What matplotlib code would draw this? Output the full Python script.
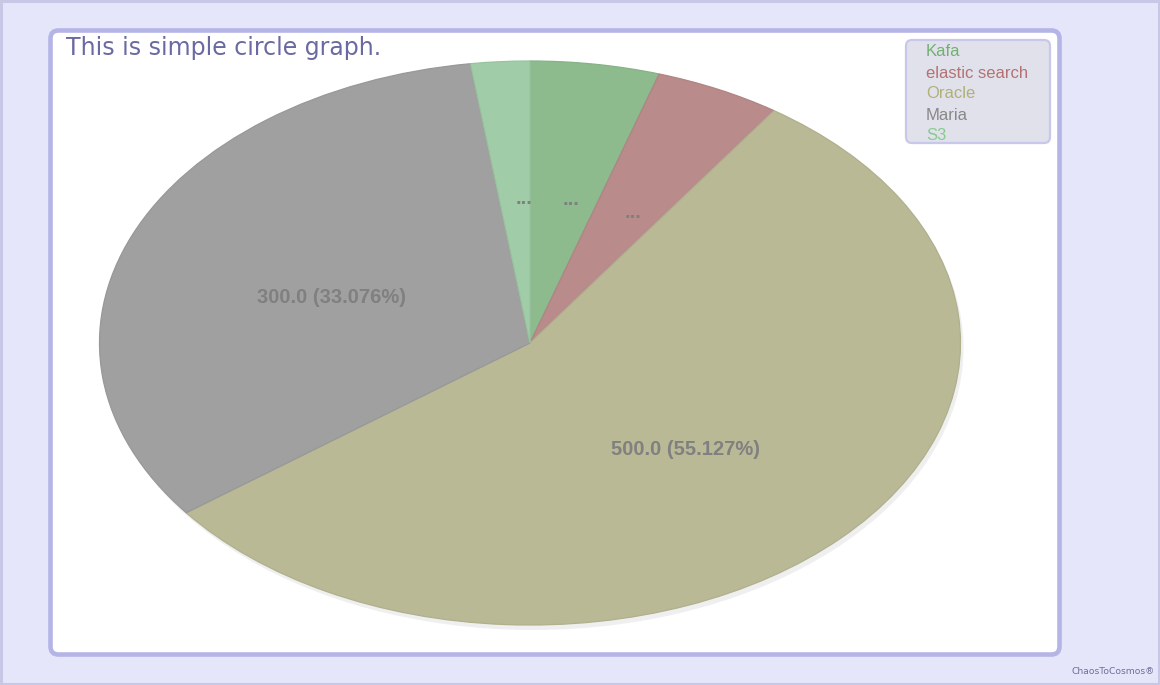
import numpy as np
import matplotlib
matplotlib.use("Agg")
import matplotlib.pyplot as plt
from matplotlib.patches import FancyBboxPatch, Rectangle, Ellipse
from matplotlib.transforms import IdentityTransform
from matplotlib.colors import to_rgb

# chart data
names = ["Kafa", "elastic search", "Oracle", "Maria", "S3"]
values = [44.0, 43.0, 500.0, 300.0, 20.0]
slice_colors = ["#8dbb8d", "#b98b8b", "#b9b996", "#a0a0a0", "#a0cda7"]
legend_colors = ["#72b072", "#b47272", "#b0b078", "#888888", "#86cb90"]
title = "This is simple circle graph."
watermark = "ChaosToCosmos\u00ae"

W, H = 1160, 685
total = sum(values)

fig = plt.figure(figsize=(W / 100, H / 100), dpi=100)
fig.patch.set_facecolor("#e6e6fa")

# outer border and the white panel (pixel coords), kept under the axes
fig.patches.append(Rectangle((1, 1), W - 2, H - 2, transform=IdentityTransform(),
                             facecolor="none", edgecolor="#c8c8e6", linewidth=2.2, zorder=-3))
fig.patches.append(FancyBboxPatch((50.5, 30.5), 1009, 624, transform=IdentityTransform(),
                                  boxstyle="round,pad=0,rounding_size=8",
                                  facecolor="white", edgecolor="#b4b4e6", linewidth=3.3, zorder=-2))

# pie axes spans exactly the ellipse bounding box
cx, cy, rx, ry = 530, 343, 430.5, 282
ax = fig.add_axes([(cx - rx) / W, (H - cy - ry) / H, 2 * rx / W, 2 * ry / H])
ax.set_zorder(0)
ax.patch.set_visible(False)


def make_label(pct):
    if pct < 10:
        return "..."
    v = pct * total / 100
    return f"{v:.1f} ({pct:.3f}%)"


wedges, texts, autotexts = ax.pie(values, colors=slice_colors, startangle=90, counterclock=False,
                                  autopct=make_label, pctdistance=0.5,
                                  wedgeprops=dict(linewidth=0.9),
                                  textprops=dict(color="#808080", fontsize=14.5,
                                                 fontweight="bold", family="Liberation Sans"))
for w, c in zip(wedges, slice_colors):
    w.set_edgecolor(tuple(np.array(to_rgb(c)) * 0.95))
    w.set_zorder(3)

# the chart nudges its labels: short "..." ones up-right, value labels down (pixels)
for t in autotexts:
    x, y = t.get_position()
    if t.get_text() == "...":
        dx, dy = 8.5, 4
    else:
        dx, dy = 0, -8.5
    t.set_position((x + dx / rx, y + dy / ry))
    t.set_zorder(5)

ax.set_aspect("auto")
ax.set_xlim(-1, 1)
ax.set_ylim(-1, 1)
ax.axis("off")

# soft shadow under the pie
ax.add_patch(Ellipse((3 / rx, -5 / ry), 2, 2, facecolor="#efefef", edgecolor="none",
                     zorder=1, clip_on=False))

# title
fig.text(66 / W, (H - 55) / H, title, fontsize=17, color="#6a6aa2",
         family="DejaVu Sans", va="baseline", ha="left")

# legend box
fig.patches.append(FancyBboxPatch((906, 542), 144, 103, transform=IdentityTransform(),
                                  boxstyle="round,pad=0,rounding_size=6",
                                  facecolor="#e1e1eb", edgecolor="#c8c8eb", linewidth=1.6, zorder=2))
for i, (n, c) in enumerate(zip(names, legend_colors)):
    fig.text(926 / W, (H - 56.5 - 21 * i) / H, n, fontsize=12, color=c,
             family="Liberation Sans", va="baseline", ha="left", zorder=4)

# watermark
fig.text(1155 / W, (H - 672) / H, watermark, fontsize=6.6, color="#6e6ea0",
         family="DejaVu Sans", va="center", ha="right")

fig.savefig("out.png", dpi=100, facecolor=fig.get_facecolor())
